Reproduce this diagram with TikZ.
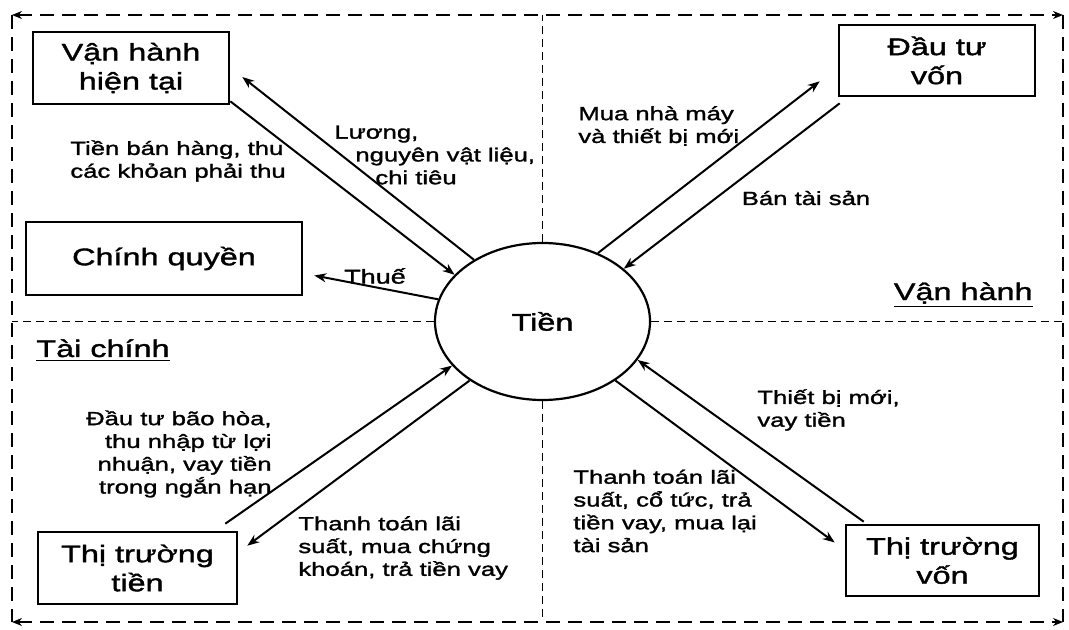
\documentclass[tikz,border=0pt]{standalone}
\usepackage{fontspec}
\setmainfont{Liberation Sans}[FakeStretch=1.35,FakeBold=1.5]
\usetikzlibrary{shapes.geometric,arrows.meta,positioning}
\tikzset{bx/.style={draw,line width=1.3pt,align=center,font=\fontsize{12}{14.5}\selectfont,inner sep=0pt},
 el/.style={draw,ellipse,line width=1.1pt,inner sep=0pt,font=\fontsize{12}{14.5}\selectfont,minimum width=107.5pt,minimum height=78.5pt},
 ar/.style={line width=1pt,-{Stealth[length=6pt,width=4.5pt]}},
 lb/.style={inner sep=0pt,font=\fontsize{9.5}{11.4}\selectfont},
 fr/.style={dash pattern=on 7pt off 4pt,line width=1.1pt},
 dv/.style={dash pattern=on 4pt off 2.5pt,line width=0.8pt},
 tt/.style={inner sep=0pt,font=\fontsize{12}{14.5}\selectfont}}
\begin{document}
\begin{tikzpicture}[x=0.5pt,y=-0.5pt]
\useasboundingbox (0,0) rectangle (1069,630);
\coordinate(tl) at (12,15);\coordinate(tr) at (1063,15);\coordinate(bl) at (12,622);\coordinate(br) at (1063,622);
\node[el](tien) at (542.5,321.5){Tiền};
\node[bx,minimum width=98pt,minimum height=36pt](vh) at (131,68){Vận hành\\hiện tại};
\node[bx,minimum width=138pt,minimum height=36.5pt](cq) at (164,258.5){Chính quyền};
\node[bx,minimum width=98pt,minimum height=35.5pt](dtv) at (937,60.5){Đầu tư\\vốn};
\node[bx,minimum width=99.5pt,minimum height=36pt](tt) at (137.5,568){Thị trường\\tiền};
\node[bx,minimum width=96.5pt,minimum height=35.5pt](tv) at (942.5,560.5){Thị trường\\vốn};
\draw[fr,{Stealth[length=5pt,width=4pt]}-{Stealth[length=5pt,width=4pt]}](tl)--(tr);\draw[fr,{Stealth[length=5pt,width=4pt]}-{Stealth[length=5pt,width=4pt]}](bl)--(br);
\draw[fr](tl)--(bl);\draw[fr](tr)--(br);
\draw[dv](tien.north)--(tien.north|-tl);\draw[dv](tien.south)--(tien.south|-bl);
\draw[dv](tien.west)--(tien.west-|tl);\draw[dv](tien.east)--(tien.east-|tr);
\draw[ar](tien.138)--([shift={(12,9)}]vh.east);\draw[ar]([shift={(0,-4)}]vh.south east)--(tien.152);
\draw[ar](tien.168)--([shift={(11,17)}]cq.east);
\draw[ar](tien.51)--([shift={(-18,-16)}]dtv.south west);\draw[ar]([shift={(2,6)}]dtv.south west)--(tien.33);
\draw[ar]([shift={(-13,-7)}]tt.north east)--(tien.206);\draw[ar](tien.219)--([shift={(9,15)}]tt.north east);
\draw[ar]([shift={(19,-2)}]tv.north west)--(tien.338);\draw[ar](tien.321)--([shift={(-10,-18)}]tv.west);
\node[lb,align=left,anchor=west](l1) at (334,155){Lương,\\\hspace{10.5pt}nguyên vật liệu,\\\hspace{20.5pt}chi tiêu};
\node[lb,align=left,anchor=west](l2) at (70,161){Tiền bán hàng, thu\\các khỏan phải thu};
\node[lb,font=\fontsize{10}{12}\selectfont](l3) at (375,276){Thuế};
\node[lb,align=left,anchor=west](l4) at (578,126){Mua nhà máy\\và thiết bị mới};
\node[lb](l5) at (806,198){Bán tài sản};
\node[lb,align=right,anchor=east](l6) at (272,454){Đầu tư bão hòa,\\thu nhập từ lợi\\nhuận, vay tiền\\trong ngắn hạn};
\node[lb,align=left,anchor=west](l7) at (298,548){Thanh toán lãi\\suất, mua chứng\\khoán, trả tiền vay};
\node[lb,align=left,anchor=west](l8) at (757,410){Thiết bị mới,\\vay tiền};
\node[lb,align=left,anchor=west](l9) at (573,511){Thanh toán lãi\\suất, cổ tức, trả\\tiền vay, mua lại\\tài sản};
\node[tt,anchor=base east](vhs) at (1033,300){\underline{Vận hành}};
\node[tt,anchor=base west](tc) at (36,357){\underline{Tài chính}};
\end{tikzpicture}
\end{document}
